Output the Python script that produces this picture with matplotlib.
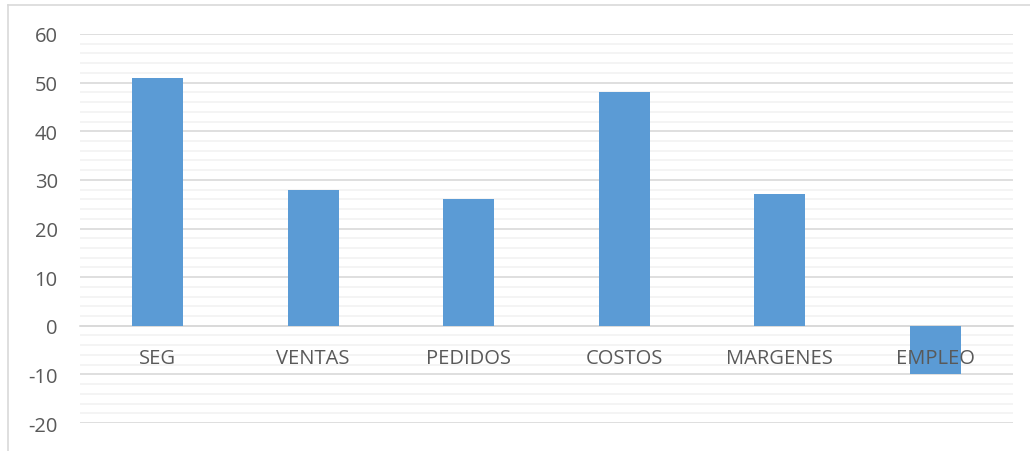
import matplotlib.pyplot as plt
from matplotlib.ticker import MultipleLocator
from matplotlib.lines import Line2D
import numpy as np

categories = ['SEG', 'VENTAS', 'PEDIDOS', 'COSTOS', 'MARGENES', 'EMPLEO']
values = [51, 28, 26, 48, 27, -10]

plt.rcParams['font.family'] = ['Open Sans', 'DejaVu Sans']
plt.rcParams['axes.unicode_minus'] = False

fig = plt.figure(figsize=(10.30, 4.52), dpi=100)
ax = fig.add_axes([80 / 1030, 1 - 424 / 452, 933 / 1030, 389 / 452])

x = np.arange(len(categories))
ax.bar(x, values, width=0.33, color='#5B9BD5', zorder=2)

ax.set_xlim(-0.5, len(categories) - 0.5)
ax.set_ylim(-20, 60)
ax.yaxis.set_major_locator(MultipleLocator(10))
ax.yaxis.set_minor_locator(MultipleLocator(2))

# gridlines below the bars, labels above
ax.set_axisbelow(True)
ax.grid(axis='y', which='major', color='#D9D9D9', linewidth=1.2)
ax.grid(axis='y', which='minor', color='#F2F2F2', linewidth=1.2)
ax.xaxis.set_zorder(3)

for s in ['top', 'right', 'left']:
    ax.spines[s].set_visible(False)
ax.spines['bottom'].set_position(('data', 0))
ax.spines['bottom'].set_color('#D9D9D9')
ax.spines['bottom'].set_linewidth(1.2)
ax.spines['bottom'].set_zorder(1)

ax.set_xticks(x)
ax.set_xticklabels(categories)
ax.tick_params(axis='x', length=0, pad=16, labelsize=14.5, labelcolor='#595959')
ax.tick_params(axis='y', which='both', length=0, pad=16, labelsize=14.5, labelcolor='#595959')

# chart border (top and left edges visible)
fig.add_artist(Line2D([8 / 1030, 1], [1 - 6 / 452, 1 - 6 / 452], transform=fig.transFigure,
                      color='#D9D9D9', linewidth=1.2))
fig.add_artist(Line2D([8 / 1030, 8 / 1030], [0, 1 - 6 / 452], transform=fig.transFigure,
                      color='#D9D9D9', linewidth=1.2))

fig.savefig('out.png', dpi=100)
